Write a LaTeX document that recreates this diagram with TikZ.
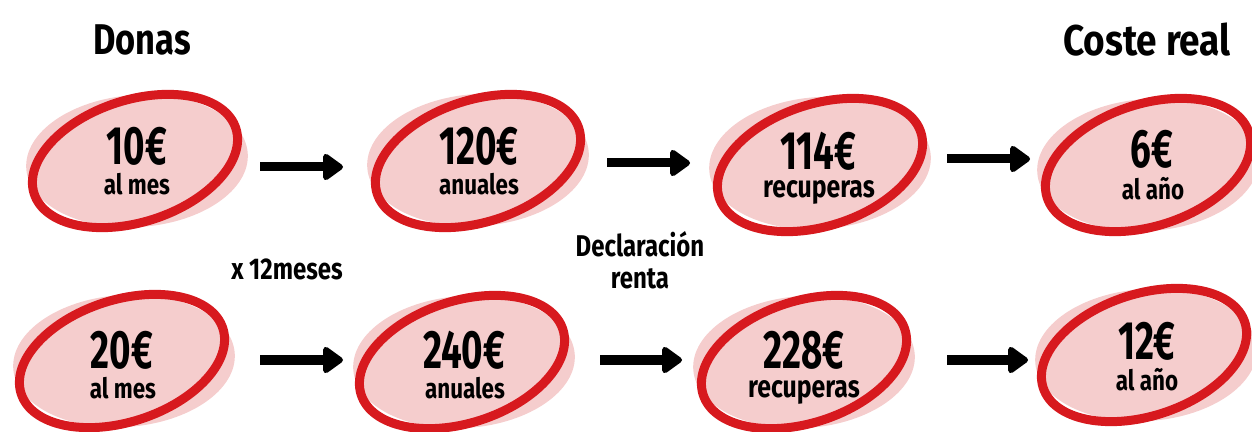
\documentclass[tikz,border=0pt]{standalone}
\usepackage{fontspec}
\setmainfont{Fira Sans}
\newfontfamily\hand{Fira Sans}[FakeStretch=0.8]
\newfontfamily\numfnt{Fira Sans}[FakeStretch=0.68]
\usetikzlibrary{shapes.geometric,arrows.meta}
\definecolor{ringred}{RGB}{215,25,30}
\definecolor{blush}{RGB}{245,205,205}
\tikzset{
  pinkblob/.style={ellipse, fill=blush, minimum width=222pt, minimum height=132pt, rotate=4, inner sep=0pt},
  ring/.style={ellipse, draw=ringred, line width=9pt, minimum width=212pt, minimum height=122pt, rotate=18, inner sep=0pt},
  numtxt/.style={anchor=base, inner sep=0pt, text height=37pt, text depth=0pt, font=\numfnt\bfseries\fontsize{54}{54}\selectfont},
  subtxt/.style={anchor=base, inner sep=0pt, text height=20pt, text depth=0pt, font=\hand\bfseries\fontsize{28}{28}\selectfont},
  subbig/.style={anchor=base, inner sep=0pt, text height=22pt, text depth=6pt, font=\hand\bfseries\fontsize{31}{31}\selectfont},
  headtxt/.style={anchor=base, inner sep=0pt, font=\hand\bfseries\fontsize{43}{43}\selectfont},
  midtxt/.style={anchor=base, inner sep=0pt, font=\hand\bfseries\fontsize{30}{30}\selectfont},
  arr/.style={line width=9pt, -{Triangle[length=22pt,width=30pt,round]}}
}
\begin{document}
\begin{tikzpicture}[x=1pt,y=1pt]
\useasboundingbox (0,0) rectangle (1252,431);
% headings
\node[headtxt] (hdonas) at (142,376) {Donas};
\node[headtxt] (hcoste) at (1147,375) {\hand\addfontfeature{FakeStretch=0.86}Coste real};
% top row
\node[pinkblob] (p1) at (137,270) {};
\node[ring] (r1) at (135,270) {};
\node[numtxt] (n1) at (137,266) {10€};
\node[subtxt] (s1) at (137,236) {al mes};
\node[pinkblob] (p2) at (478,271) {};
\node[ring] (r2) at (478,270) {};
\node[numtxt] (n2) at (479,266) {120€};
\node[subtxt] (s2) at (479,236) {anuales};
\node[pinkblob] (p3) at (820,268) {};
\node[ring] (r3) at (820,266) {};
\node[numtxt] (n3) at (818,261) {114€};
\node[subbig] (s3) at (819,233) {recuperas};
\node[pinkblob] (p4) at (1148,266) {};
\node[ring] (r4) at (1148,266) {};
\node[numtxt] (n4) at (1152,263) {6€};
\node[subtxt] (s4) at (1153,231) {al año};
% bottom row
\node[pinkblob] (q1) at (124,70) {};
\node[ring] (t1) at (122,70) {};
\node[numtxt] (m1) at (122,63) {20€};
\node[subtxt] (u1) at (123,33) {al mes};
\node[pinkblob] (q2) at (464,69) {};
\node[ring] (t2) at (462,69) {};
\node[numtxt] (m2) at (464,63) {240€};
\node[subtxt] (u2) at (465,33) {anuales};
\node[pinkblob] (q3) at (804,69) {};
\node[ring] (t3) at (804,69) {};
\node[numtxt] (m3) at (804,63) {228€};
\node[subbig] (u3) at (804,34) {recuperas};
\node[pinkblob] (q4) at (1146,76) {};
\node[ring] (t4) at (1144,76) {};
\node[numtxt] (m4) at (1147,71) {12€};
\node[subtxt] (u4) at (1147,41) {al año};
% middle labels
\node[midtxt] (xm) at (287,151) {x 12meses};
\node[midtxt] (dr1) at (640,174) {Declaración};
\node[midtxt] (dr2) at (640,142) {renta};
% arrows
\coordinate (a1s) at (260,264); \coordinate (a1e) at (343,264);
\coordinate (a2s) at (607,268); \coordinate (a2e) at (690,268);
\coordinate (a3s) at (947,272); \coordinate (a3e) at (1030,272);
\coordinate (b1s) at (260,71); \coordinate (b1e) at (343,71);
\coordinate (b2s) at (600,71); \coordinate (b2e) at (682,71);
\coordinate (b3s) at (947,71); \coordinate (b3e) at (1028,71);
\draw[arr] (a1s) -- (a1e);
\draw[arr] (a2s) -- (a2e);
\draw[arr] (a3s) -- (a3e);
\draw[arr] (b1s) -- (b1e);
\draw[arr] (b2s) -- (b2e);
\draw[arr] (b3s) -- (b3e);
\end{tikzpicture}
\end{document}
